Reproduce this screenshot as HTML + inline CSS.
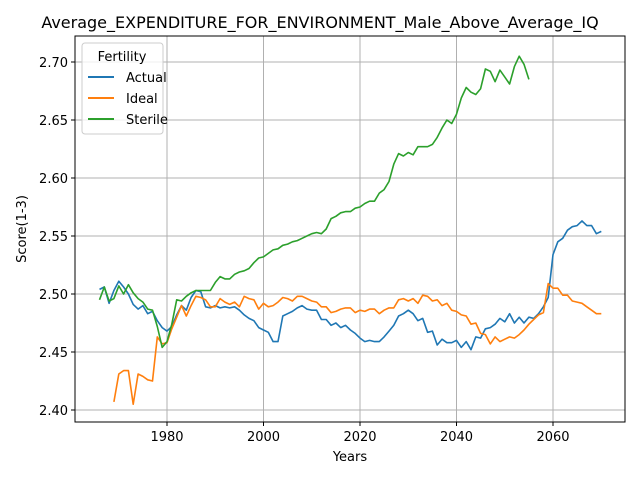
<!DOCTYPE html>
<html><head><meta charset="utf-8"><style>
body{margin:0;background:#fff;font-family:"Liberation Sans","DejaVu Sans",sans-serif}
</style></head><body>
<svg id="chart" width="640" height="480" xmlns="http://www.w3.org/2000/svg" font-family="DejaVu Sans, Liberation Sans, sans-serif">
<rect width="640" height="480" fill="#fff"/>
<g id="grid"></g>
<g id="series"></g>
<rect x="75" y="36" width="550" height="386" fill="none" stroke="#000" stroke-width="1"/>
<g id="ticks" font-size="13"></g>
<text x="320" y="28" text-anchor="middle" font-size="16">Average_EXPENDITURE_FOR_ENVIRONMENT_Male_Above_Average_IQ</text>
<text x="350" y="461" text-anchor="middle" font-size="13">Years</text>
<text x="26" y="229" text-anchor="middle" font-size="13" transform="rotate(-90 26 229)">Score(1-3)</text>
<g>
<rect x="82" y="43" width="81" height="91" rx="3" fill="#fff" fill-opacity="0.8" stroke="#ccc"/>
<text x="122" y="61" text-anchor="middle" font-size="13">Fertility</text>
<g><line x1="88" y1="77" x2="114" y2="77" stroke="#1f77b4" stroke-width="2"/><text x="126" y="82" font-size="13">Actual</text></g>
<g><line x1="88" y1="98" x2="114" y2="98" stroke="#ff7f0e" stroke-width="2"/><text x="126" y="103" font-size="13">Ideal</text></g>
<g><line x1="88" y1="119" x2="114" y2="119" stroke="#2ca02c" stroke-width="2"/><text x="126" y="124" font-size="13">Sterile</text></g>
</g>
</svg>
<script>
const actualStart = 1966;
const actual = [2.504,2.506,2.492,2.503,2.511,2.506,2.500,2.491,2.487,2.490,2.483,2.485,2.477,2.471,2.468,2.472,2.482,2.490,2.486,2.497,2.503,2.502,2.489,2.488,2.490,2.488,2.489,2.488,2.489,2.486,2.482,2.479,2.477,2.471,2.469,2.467,2.459,2.459,2.481,2.483,2.485,2.488,2.490,2.487,2.486,2.486,2.478,2.478,2.473,2.475,2.471,2.473,2.469,2.466,2.462,2.459,2.460,2.459,2.459,2.463,2.468,2.473,2.481,2.483,2.486,2.483,2.477,2.479,2.467,2.468,2.456,2.461,2.458,2.458,2.460,2.454,2.459,2.452,2.463,2.462,2.470,2.471,2.474,2.479,2.476,2.483,2.475,2.480,2.475,2.480,2.479,2.483,2.489,2.497,2.534,2.545,2.548,2.555,2.558,2.559,2.563,2.559,2.559,2.552,2.554];
const idealStart = 1969;
const ideal = [2.407,2.431,2.434,2.434,2.405,2.431,2.429,2.426,2.425,2.463,2.457,2.458,2.470,2.480,2.490,2.481,2.490,2.498,2.497,2.495,2.489,2.489,2.496,2.493,2.491,2.493,2.489,2.498,2.496,2.495,2.487,2.492,2.489,2.490,2.493,2.497,2.496,2.494,2.498,2.498,2.496,2.494,2.493,2.489,2.489,2.484,2.485,2.487,2.488,2.488,2.484,2.486,2.485,2.487,2.487,2.483,2.486,2.488,2.488,2.495,2.496,2.494,2.496,2.492,2.499,2.498,2.494,2.495,2.490,2.492,2.486,2.485,2.482,2.481,2.474,2.475,2.466,2.465,2.457,2.463,2.459,2.461,2.463,2.462,2.465,2.469,2.474,2.478,2.482,2.484,2.509,2.505,2.505,2.499,2.499,2.494,2.493,2.492,2.489,2.486,2.483,2.483];
const sterileStart = 1966;
const sterile = [2.495,2.506,2.494,2.496,2.507,2.500,2.508,2.501,2.496,2.493,2.487,2.486,2.472,2.454,2.459,2.474,2.495,2.494,2.498,2.501,2.503,2.503,2.503,2.503,2.510,2.515,2.513,2.513,2.517,2.519,2.520,2.522,2.527,2.531,2.532,2.535,2.538,2.539,2.542,2.543,2.545,2.546,2.548,2.550,2.552,2.553,2.552,2.556,2.565,2.567,2.570,2.571,2.571,2.574,2.575,2.578,2.580,2.580,2.587,2.590,2.597,2.612,2.621,2.619,2.622,2.620,2.627,2.627,2.627,2.629,2.635,2.643,2.650,2.647,2.655,2.669,2.678,2.674,2.672,2.677,2.694,2.692,2.683,2.693,2.687,2.681,2.696,2.705,2.698,2.685];
const xTicks = [1980,2000,2020,2040,2060];
const yTicks = [2.40,2.45,2.50,2.55,2.60,2.65,2.70];

const NS='http://www.w3.org/2000/svg';
const X = yr => 167 + (yr-1980)*4.825;
const Y = v => 410 - (v-2.40)*1160;
const grid=document.getElementById('grid'), ticks=document.getElementById('ticks'), ser=document.getElementById('series');
function mk(tag, attrs, parent){const e=document.createElementNS(NS,tag);for(const k in attrs)e.setAttribute(k,attrs[k]);parent.appendChild(e);return e;}
xTicks.forEach(t=>{
  const x=X(t);
  const g=mk('line',{x1:x,x2:x,y1:36,y2:422,stroke:'#b0b0b0','stroke-width':1},grid);
  
  
  mk('line',{x1:x,x2:x,y1:422,y2:426,stroke:'#000'},ticks);
  const tx=mk('text',{x:x,y:441,'text-anchor':'middle'},ticks);
  tx.textContent=t;
  
  
});
yTicks.forEach(t=>{
  const y=Y(t);
  const g=mk('line',{x1:75,x2:625,y1:y,y2:y,stroke:'#b0b0b0','stroke-width':1},grid);
  
  
  mk('line',{x1:71,x2:75,y1:y,y2:y,stroke:'#000'},ticks);
  const tx=mk('text',{x:68,y:y+5,'text-anchor':'end'},ticks);
  tx.textContent=t.toFixed(2);
  
  
});
function line(vals,start,color,name){
  const d=vals.map((v,i)=>(i?'L':'M')+X(start+i).toFixed(1)+','+Y(v).toFixed(1)).join('');
  const p=mk('path',{d:d,fill:'none',stroke:color,'stroke-width':1.6,'stroke-linejoin':'round'},ser);
  
  
}
line(actual,actualStart,'#1f77b4','actual-line');
line(ideal,idealStart,'#ff7f0e','ideal-line');
line(sterile,sterileStart,'#2ca02c','sterile-line');
</script>
</body></html>
